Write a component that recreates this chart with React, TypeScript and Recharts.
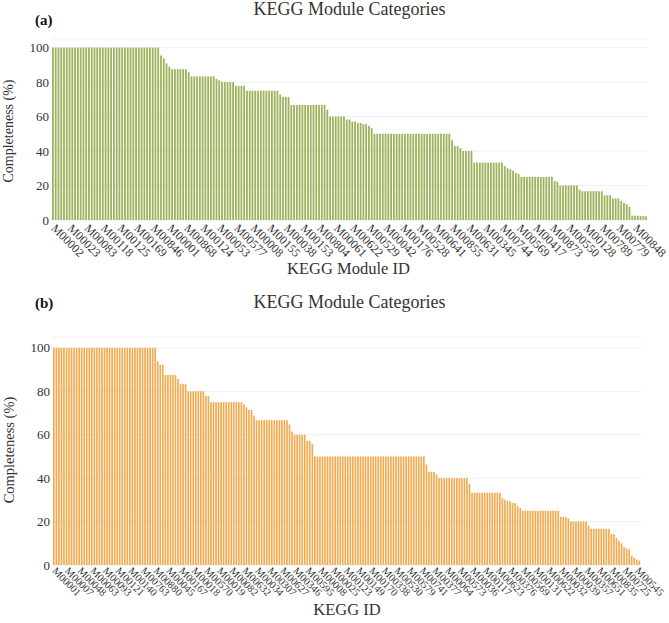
import React from 'react';
import { BarChart, Bar, XAxis, YAxis, CartesianGrid } from 'recharts';

const FONT = '"Liberation Serif", "Times New Roman", serif';
const TEXT = '#333';

// panel (a): every 6th module id is printed on the axis
const moduleLabels = [
  'M00002', 'M00023', 'M00083', 'M00118', 'M00125', 'M00169', 'M00846', 'M00001', 'M00868',
  'M00124', 'M00053', 'M00577', 'M00008', 'M00155', 'M00038', 'M00153', 'M00804', 'M00061',
  'M00622', 'M00529', 'M00042', 'M00176', 'M00528', 'M00641', 'M00855', 'M00631', 'M00345',
  'M00744', 'M00569', 'M00417', 'M00873', 'M00550', 'M00128', 'M00789', 'M00779', 'M00848',
];

const moduleCompleteness = [
  100, 100, 100, 100, 100, 100, 100, 100, 100, 100,
  100, 100, 100, 100, 100, 100, 100, 100, 100, 100,
  100, 100, 100, 100, 100, 100, 100, 100, 100, 100,
  100, 100, 100, 100, 100, 100, 100, 100, 100,
  95.5, 93.8, 90.9, 88.9,
  87.5, 87.5, 87.5, 87.5, 87.5, 87.5,
  85.7,
  83.3, 83.3, 83.3, 83.3, 83.3, 83.3, 83.3, 83.3, 83.3,
  81.8, 81,
  80, 80, 80, 80, 80,
  77.8, 77.8, 77.8, 77.8,
  75, 75, 75, 75, 75, 75, 75, 75, 75, 75, 75, 75,
  72.7, 71.4, 71.4, 71.4,
  66.7, 66.7, 66.7, 66.7, 66.7, 66.7, 66.7, 66.7, 66.7, 66.7, 66.7, 66.7, 66.7,
  64,
  60, 60, 60, 60, 60, 60,
  58.3, 58.3, 57.1, 57.1, 56.3, 56.3, 55.6, 55.6, 54.5, 53.3,
  50, 50, 50, 50, 50, 50, 50, 50, 50, 50, 50, 50, 50, 50,
  50, 50, 50, 50, 50, 50, 50, 50, 50, 50, 50, 50, 50, 50,
  46.2, 42.9, 42.9, 41.7, 40, 40, 40, 40,
  33.3, 33.3, 33.3, 33.3, 33.3, 33.3, 33.3, 33.3, 33.3, 33.3, 33.3,
  31.3, 30, 29.4, 28.6, 27.3, 26.7,
  25, 25, 25, 25, 25, 25, 25, 25, 25, 25, 25, 25,
  22.7, 22.2,
  20, 20, 20, 20, 20, 20, 20,
  17.6, 16.7, 16.7, 16.7, 16.7, 16.7, 16.7, 16.7, 16.7,
  14.3, 14.3, 14.3, 12.5, 12.5, 12.5,
  11.1, 10, 9.1, 7.7,
  2.6, 2.5, 2.5, 2.4, 2.3, 2.2,
];

// panel (b): every 5th id is printed on the axis
const keggLabels = [
  'M00001', 'M00007', 'M00048', 'M00063', 'M00093', 'M00121', 'M00140', 'M00763', 'M00880',
  'M00045', 'M00167', 'M00018', 'M00570', 'M00019', 'M00082', 'M00632', 'M00034', 'M00307',
  'M00627', 'M00346', 'M00595', 'M00008', 'M00025', 'M00123', 'M00149', 'M00170', 'M00338',
  'M00530', 'M00579', 'M00741', 'M00377', 'M00064', 'M00573', 'M00036', 'M00117', 'M00623',
  'M00376', 'M00569', 'M00131', 'M00622', 'M00032', 'M00039', 'M00357', 'M00651', 'M00835',
  'M00725', 'M00545',
];

const keggCompleteness = [
  100, 100, 100, 100, 100, 100, 100, 100, 100, 100,
  100, 100, 100, 100, 100, 100, 100, 100, 100, 100,
  100, 100, 100, 100, 100, 100, 100, 100, 100, 100,
  100, 100, 100, 100, 100, 100, 100, 100, 100, 100, 100,
  93.8, 92.3, 92.3,
  87.5, 87.5, 87.5, 87.5, 87.5,
  85.7,
  83.3, 83.3, 83.3,
  80, 80, 80, 80, 80, 80, 80,
  77.8, 77.8,
  75, 75, 75, 75, 75, 75, 75, 75, 75, 75, 75, 75, 75,
  74, 72.7, 71.4, 71.4, 68.8,
  66.7, 66.7, 66.7, 66.7, 66.7, 66.7, 66.7, 66.7, 66.7, 66.7, 66.7, 66.7, 66.7,
  64.7, 61.5,
  60, 60, 60, 60, 60,
  57.1, 57.1, 55.6,
  50, 50, 50, 50, 50, 50, 50, 50, 50, 50, 50,
  50, 50, 50, 50, 50, 50, 50, 50, 50, 50, 50,
  50, 50, 50, 50, 50, 50, 50, 50, 50, 50, 50,
  50, 50, 50, 50, 50, 50, 50, 50, 50, 50, 50,
  46.2, 42.9, 42.9, 42.9, 41.7,
  40, 40, 40, 40, 40, 40, 40, 40, 40, 40, 40, 40,
  37.5,
  33.3, 33.3, 33.3, 33.3, 33.3, 33.3, 33.3, 33.3, 33.3, 33.3, 33.3, 33.3,
  30.8, 30, 29.4, 29.4, 28.6, 28.6, 27.3, 26.3,
  25, 25, 25, 25, 25, 25, 25, 25, 25, 25, 25, 25, 25, 25, 25,
  22.2, 22.2, 22.2, 21.4,
  20, 20, 20, 20, 20, 20, 20,
  18.2,
  16.7, 16.7, 16.7, 16.7, 16.7, 16.7, 16.7, 16.7,
  14.3, 14.3,
  12.5, 11.1, 10, 8.3, 7.7, 7.1,
  4.3, 3.3, 2.5, 2,
];

const yTicks = [0, 20, 40, 60, 80, 100];

function slantTick(labels: string[], step: number, fontSize: number, drop: number) {
  return (props: any) => {
    const { x, y, payload } = props;
    const ty = y + drop;
    return (
      <text
        x={x}
        y={ty}
        dy="0.35em"
        transform={`rotate(45, ${x}, ${ty})`}
        textAnchor="start"
        fontSize={fontSize}
        fontFamily={FONT}
        fill={TEXT}
      >
        {labels[payload.value / step]}
      </text>
    );
  };
}

function numTick(props: any) {
  const { x, y, payload } = props;
  return (
    <text x={x} y={y} dy="0.35em" textAnchor="end" fontSize={13} fontFamily={FONT} fill={TEXT}>
      {payload.value}
    </text>
  );
}

interface PanelProps {
  values: number[];
  labels: string[];
  step: number;
  color: string;
  width: number;
  height: number;
  margin: { top: number; right: number; left: number; bottom: number };
  yWidth: number;
  xHeight: number;
  barSize: number;
  tickFont: number;
  drop: number;
}

function Panel({ values, labels, step, color, width, height, margin, yWidth, xHeight, barSize, tickFont, drop }: PanelProps) {
  const data = values.map((v, i) => ({ idx: i, value: v }));
  return (
    <BarChart width={width} height={height} data={data} margin={margin} barCategoryGap={0}>
      <CartesianGrid vertical={false} stroke="#edf0f6" />
      <XAxis
        dataKey="idx"
        type="category"
        interval={step - 1}
        height={xHeight}
        axisLine={false}
        tickLine={false}
        tick={slantTick(labels, step, tickFont, drop)}
      />
      <YAxis
        domain={[0, 105]}
        ticks={yTicks}
        width={yWidth}
        axisLine={false}
        tickLine={false}
        tickSize={0}
        tickMargin={3}
        tick={numTick}
      />
      <Bar dataKey="value" fill={color} barSize={barSize} isAnimationActive={false} />
    </BarChart>
  );
}

export default function App() {
  return (
    <div style={{ position: 'absolute', left: 0, top: 0, width: 669, height: 623, background: '#fff', fontFamily: FONT }}>
      <div style={{ position: 'absolute', left: 0, top: 0 }}>
        <Panel
          values={moduleCompleteness}
          labels={moduleLabels}
          step={6}
          color="#9db25c"
          width={669}
          height={290}
          margin={{ top: 39, right: 21, left: 0, bottom: 0 }}
          yWidth={52}
          xHeight={70}
          barSize={1.8}
          tickFont={12}
          drop={-2}
        />
      </div>
      <div style={{ position: 'absolute', left: 0, top: 290 }}>
        <Panel
          values={keggCompleteness}
          labels={keggLabels}
          step={5}
          color="#f3a94e"
          width={669}
          height={333}
          margin={{ top: 47, right: 28, left: 0, bottom: 0 }}
          yWidth={53}
          xHeight={58}
          barSize={1.65}
          tickFont={10.5}
          drop={-4}
        />
      </div>
      <svg
        width={669}
        height={623}
        style={{ position: 'absolute', left: 0, top: 0, pointerEvents: 'none', fontFamily: FONT }}
        fill={TEXT}
      >
        <text x={35} y={25} fontSize={15} fontWeight="bold" fill="#111">(a)</text>
        <text x={349.5} y={15} fontSize={18} textAnchor="middle">KEGG Module Categories</text>
        <text transform="translate(12.5,131) rotate(-90)" fontSize={14} textAnchor="middle">Completeness (%)</text>
        <text x={348.5} y={274} fontSize={16.5} textAnchor="middle">KEGG Module ID</text>

        <text x={35} y={308} fontSize={15} fontWeight="bold" fill="#111">(b)</text>
        <text x={349.5} y={308} fontSize={18} textAnchor="middle">KEGG Module Categories</text>
        <text transform="translate(13.5,450) rotate(-90)" fontSize={14.5} textAnchor="middle">Completeness (%)</text>
        <text x={347} y={615} fontSize={16.5} textAnchor="middle">KEGG ID</text>
      </svg>
    </div>
  );
}
